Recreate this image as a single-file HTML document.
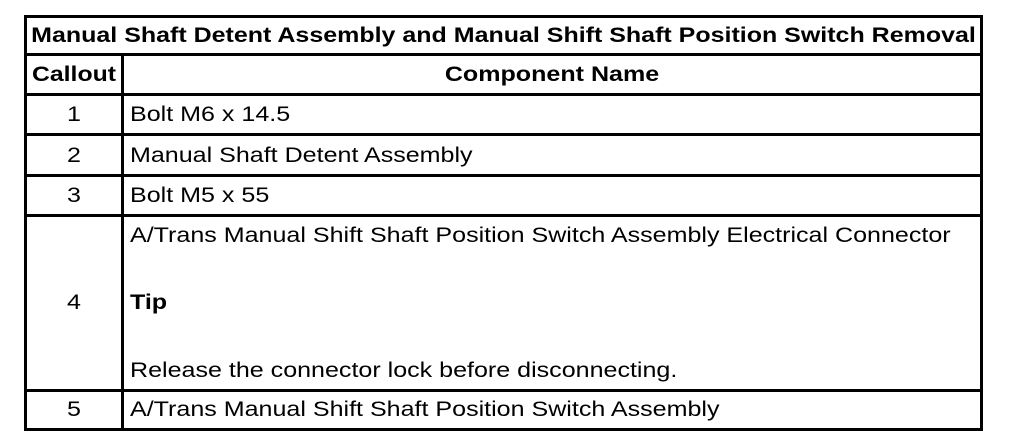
<!DOCTYPE html>
<html><head><style>
body{margin:0;width:1024px;height:448px;background:#fff;position:relative;font-family:"Liberation Sans",Arial,sans-serif;color:#000;overflow:hidden}
.l{position:absolute;background:#000}
.t{position:absolute;font-size:21px;line-height:24px;white-space:nowrap;transform:scaleX(1.193);transform-origin:left center}
.c{text-align:center;transform-origin:center center}
</style></head><body>
<div class="l" style="left:24px;top:15px;width:959px;height:3px"></div>
<div class="l" style="left:24px;top:428px;width:959px;height:3px"></div>
<div class="l" style="left:24px;top:15px;width:3px;height:416px"></div>
<div class="l" style="left:980px;top:15px;width:3px;height:416px"></div>
<div class="l" style="left:24px;top:53px;width:959px;height:3px"></div>
<div class="l" style="left:24px;top:93px;width:959px;height:3px"></div>
<div class="l" style="left:24px;top:133px;width:959px;height:3px"></div>
<div class="l" style="left:24px;top:174px;width:959px;height:3px"></div>
<div class="l" style="left:24px;top:214px;width:959px;height:3px"></div>
<div class="l" style="left:24px;top:389px;width:959px;height:3px"></div>
<div class="l" style="left:121px;top:53px;width:3px;height:378px"></div>

<div class="t c" style="left:27px;width:953px;top:24px;font-weight:bold;transform:scaleX(1.19)">Manual Shaft Detent Assembly and Manual Shift Shaft Position Switch Removal</div>
<div class="t c" style="left:27px;width:94px;top:63px;font-weight:bold;transform:scaleX(1.18)">Callout</div>
<div class="t c" style="left:124px;width:856px;top:63px;font-weight:bold">Component Name</div>

<div class="t c" style="left:27px;width:94px;top:103px">1</div>
<div class="t" style="left:130px;top:103px">Bolt M6 x 14.5</div>
<div class="t c" style="left:27px;width:94px;top:144px">2</div>
<div class="t" style="left:130px;top:144px">Manual Shaft Detent Assembly</div>
<div class="t c" style="left:27px;width:94px;top:184px">3</div>
<div class="t" style="left:130px;top:184px">Bolt M5 x 55</div>
<div class="t c" style="left:27px;width:94px;top:291px">4</div>
<div class="t" style="left:130px;top:224px">A/Trans Manual Shift Shaft Position Switch Assembly Electrical Connector</div>
<div class="t" style="left:130px;top:291px;font-weight:bold">Tip</div>
<div class="t" style="left:130px;top:359px">Release the connector lock before disconnecting.</div>
<div class="t c" style="left:27px;width:94px;top:398px">5</div>
<div class="t" style="left:130px;top:398px">A/Trans Manual Shift Shaft Position Switch Assembly</div>
</body></html>
